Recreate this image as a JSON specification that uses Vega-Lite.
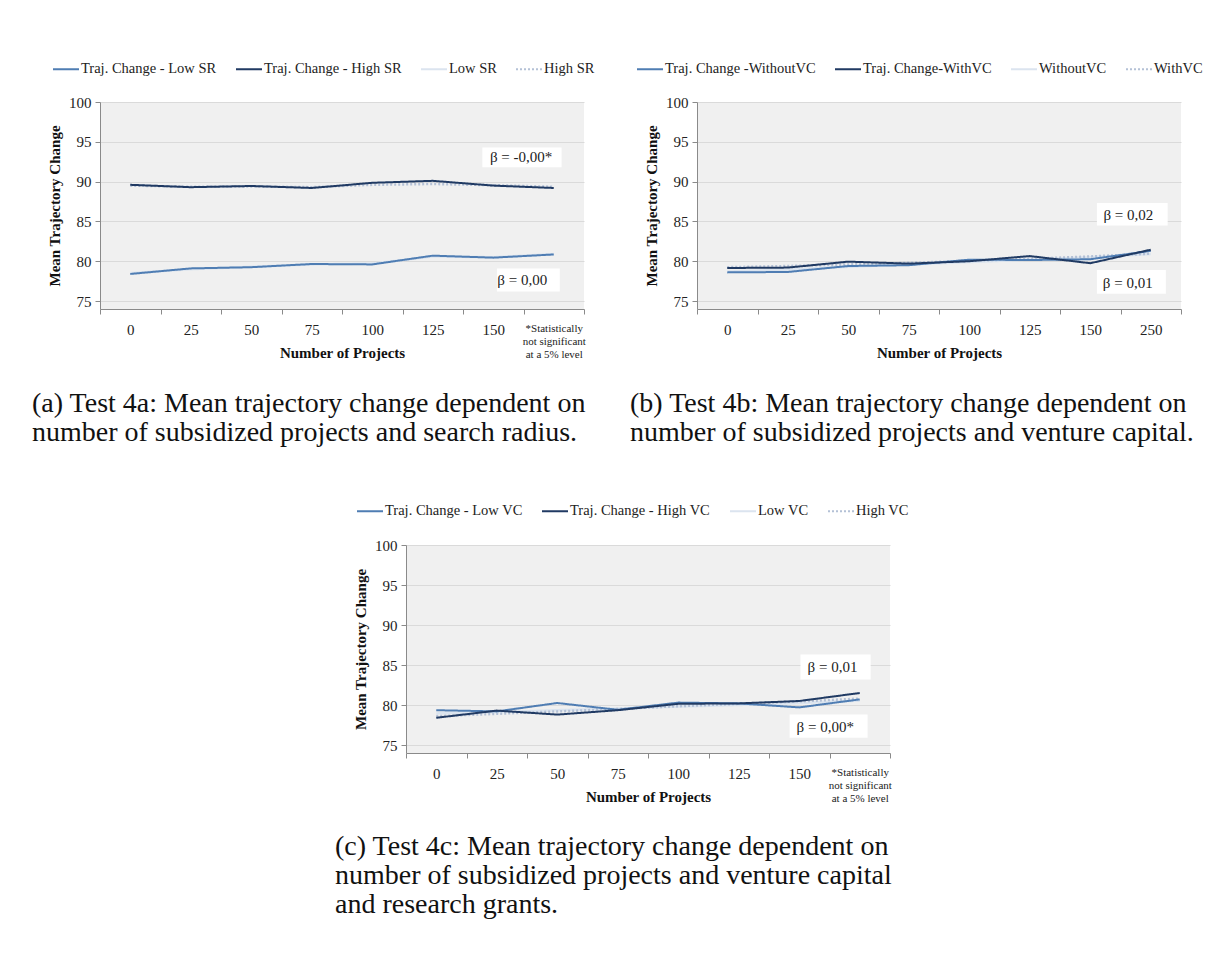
{
  "$schema": "https://vega.github.io/schema/vega-lite/v6.json",
  "background": "white",
  "padding": {"left": 32, "top": 55, "right": 5, "bottom": 5},
  "datasets": {
    "a": [
      {"x": "0", "s": "Traj. Change - Low SR", "y": 78.4},
      {"x": "25", "s": "Traj. Change - Low SR", "y": 79.1},
      {"x": "50", "s": "Traj. Change - Low SR", "y": 79.25},
      {"x": "75", "s": "Traj. Change - Low SR", "y": 79.65},
      {"x": "100", "s": "Traj. Change - Low SR", "y": 79.6},
      {"x": "125", "s": "Traj. Change - Low SR", "y": 80.7},
      {"x": "150", "s": "Traj. Change - Low SR", "y": 80.45},
      {"x": "250", "s": "Traj. Change - Low SR", "y": 80.85},
      {"x": "0", "s": "Traj. Change - High SR", "y": 89.6},
      {"x": "25", "s": "Traj. Change - High SR", "y": 89.3},
      {"x": "50", "s": "Traj. Change - High SR", "y": 89.45},
      {"x": "75", "s": "Traj. Change - High SR", "y": 89.2},
      {"x": "100", "s": "Traj. Change - High SR", "y": 89.85},
      {"x": "125", "s": "Traj. Change - High SR", "y": 90.1},
      {"x": "150", "s": "Traj. Change - High SR", "y": 89.5},
      {"x": "250", "s": "Traj. Change - High SR", "y": 89.2},
      {"x": "0", "s": "Low SR", "y": 78.5},
      {"x": "25", "s": "Low SR", "y": 79.0},
      {"x": "50", "s": "Low SR", "y": 79.3},
      {"x": "75", "s": "Low SR", "y": 79.6},
      {"x": "100", "s": "Low SR", "y": 79.7},
      {"x": "125", "s": "Low SR", "y": 80.6},
      {"x": "150", "s": "Low SR", "y": 80.5},
      {"x": "250", "s": "Low SR", "y": 80.9},
      {"x": "0", "s": "High SR", "y": 89.5},
      {"x": "25", "s": "High SR", "y": 89.35},
      {"x": "50", "s": "High SR", "y": 89.4},
      {"x": "75", "s": "High SR", "y": 89.3},
      {"x": "100", "s": "High SR", "y": 89.6},
      {"x": "125", "s": "High SR", "y": 89.7},
      {"x": "150", "s": "High SR", "y": 89.55},
      {"x": "250", "s": "High SR", "y": 89.35}
    ],
    "b": [
      {"x": "0", "s": "Traj. Change -WithoutVC", "y": 78.6},
      {"x": "25", "s": "Traj. Change -WithoutVC", "y": 78.65},
      {"x": "50", "s": "Traj. Change -WithoutVC", "y": 79.4},
      {"x": "75", "s": "Traj. Change -WithoutVC", "y": 79.5},
      {"x": "100", "s": "Traj. Change -WithoutVC", "y": 80.2},
      {"x": "125", "s": "Traj. Change -WithoutVC", "y": 80.15},
      {"x": "150", "s": "Traj. Change -WithoutVC", "y": 80.25},
      {"x": "250", "s": "Traj. Change -WithoutVC", "y": 81.3},
      {"x": "0", "s": "Traj. Change-WithVC", "y": 79.15},
      {"x": "25", "s": "Traj. Change-WithVC", "y": 79.2},
      {"x": "50", "s": "Traj. Change-WithVC", "y": 79.95},
      {"x": "75", "s": "Traj. Change-WithVC", "y": 79.7},
      {"x": "100", "s": "Traj. Change-WithVC", "y": 80.0},
      {"x": "125", "s": "Traj. Change-WithVC", "y": 80.65},
      {"x": "150", "s": "Traj. Change-WithVC", "y": 79.75},
      {"x": "250", "s": "Traj. Change-WithVC", "y": 81.45},
      {"x": "0", "s": "WithoutVC", "y": 78.7},
      {"x": "25", "s": "WithoutVC", "y": 78.95},
      {"x": "50", "s": "WithoutVC", "y": 79.3},
      {"x": "75", "s": "WithoutVC", "y": 79.6},
      {"x": "100", "s": "WithoutVC", "y": 79.9},
      {"x": "125", "s": "WithoutVC", "y": 80.2},
      {"x": "150", "s": "WithoutVC", "y": 80.5},
      {"x": "250", "s": "WithoutVC", "y": 80.9},
      {"x": "0", "s": "WithVC", "y": 79.25},
      {"x": "25", "s": "WithVC", "y": 79.4},
      {"x": "50", "s": "WithVC", "y": 79.6},
      {"x": "75", "s": "WithVC", "y": 79.8},
      {"x": "100", "s": "WithVC", "y": 80.05},
      {"x": "125", "s": "WithVC", "y": 80.3},
      {"x": "150", "s": "WithVC", "y": 80.6},
      {"x": "250", "s": "WithVC", "y": 80.95}
    ],
    "c": [
      {"x": "0", "s": "Traj. Change - Low VC", "y": 79.35},
      {"x": "25", "s": "Traj. Change - Low VC", "y": 79.2},
      {"x": "50", "s": "Traj. Change - Low VC", "y": 80.25},
      {"x": "75", "s": "Traj. Change - Low VC", "y": 79.4},
      {"x": "100", "s": "Traj. Change - Low VC", "y": 80.3},
      {"x": "125", "s": "Traj. Change - Low VC", "y": 80.2},
      {"x": "150", "s": "Traj. Change - Low VC", "y": 79.7},
      {"x": "250", "s": "Traj. Change - Low VC", "y": 80.7},
      {"x": "0", "s": "Traj. Change - High VC", "y": 78.4},
      {"x": "25", "s": "Traj. Change - High VC", "y": 79.3},
      {"x": "50", "s": "Traj. Change - High VC", "y": 78.8},
      {"x": "75", "s": "Traj. Change - High VC", "y": 79.35},
      {"x": "100", "s": "Traj. Change - High VC", "y": 80.15},
      {"x": "125", "s": "Traj. Change - High VC", "y": 80.2},
      {"x": "150", "s": "Traj. Change - High VC", "y": 80.5},
      {"x": "250", "s": "Traj. Change - High VC", "y": 81.5},
      {"x": "0", "s": "Low VC", "y": 78.95},
      {"x": "25", "s": "Low VC", "y": 79.1},
      {"x": "50", "s": "Low VC", "y": 79.35},
      {"x": "75", "s": "Low VC", "y": 79.55},
      {"x": "100", "s": "Low VC", "y": 79.8},
      {"x": "125", "s": "Low VC", "y": 80.0},
      {"x": "150", "s": "Low VC", "y": 80.25},
      {"x": "250", "s": "Low VC", "y": 80.55},
      {"x": "0", "s": "High VC", "y": 78.6},
      {"x": "25", "s": "High VC", "y": 78.9},
      {"x": "50", "s": "High VC", "y": 79.2},
      {"x": "75", "s": "High VC", "y": 79.5},
      {"x": "100", "s": "High VC", "y": 79.85},
      {"x": "125", "s": "High VC", "y": 80.15},
      {"x": "150", "s": "High VC", "y": 80.45},
      {"x": "250", "s": "High VC", "y": 80.8}
    ]
  },
  "bounds": "flush",
  "spacing": 443,
  "resolve": {
    "scale": {"color": "independent", "strokeDash": "independent"},
    "legend": {"color": "independent", "strokeDash": "independent"}
  },
  "vconcat": [
    {
      "bounds": "flush",
      "spacing": 113,
      "resolve": {
        "scale": {"color": "independent", "strokeDash": "independent"},
        "legend": {"color": "independent", "strokeDash": "independent"}
      },
      "hconcat": [
        {
          "width": 484,
          "height": 207,
          "view": {"fill": "#f0f0f0", "stroke": null},
          "data": {"name": "a"},
          "title": {
            "text": ["(a) Test 4a: Mean trajectory change dependent on", "number of subsidized projects and search radius."],
            "orient": "bottom", "anchor": "start", "frame": "group", "dx": -68, "offset": 30
          },
          "layer": [
            {
              "encoding": {
                "x": {
                  "field": "x", "type": "ordinal", "title": "Number of Projects",
                  "sort": ["0", "25", "50", "75", "100", "125", "150", "250"],
                  "scale": {"type": "band", "paddingInner": 0, "paddingOuter": 0},
                  "axis": {
                    "labelAngle": 0, "tickBand": "extent", "grid": false, "labelPadding": 8,
                    "titleY": 43, "titleBaseline": "middle", "labelLineHeight": 13,
                    "labelExpr": "datum.value == '250' ? ['*Statistically', 'not significant', 'at a 5% level'] : datum.label",
                    "labelFontSize": {"condition": {"test": "datum.value == '250'", "value": 11}, "value": 15}
                  }
                },
                "y": {
                  "field": "y", "type": "quantitative", "title": "Mean Trajectory Change",
                  "scale": {"domain": [75, 100]},
                  "axis": {"values": [75, 80, 85, 90, 95, 100], "grid": true, "labelPadding": 4, "titlePadding": 6}
                }
              },
              "layer": [
                {
                  "transform": [{"filter": "indexof(datum.s, 'Traj') < 0"}],
                  "mark": {"type": "line", "strokeWidth": 2.5},
                  "encoding": {
                    "color": {
                      "field": "s", "type": "nominal",
                      "scale": {"domain": ["Traj. Change - Low SR", "Traj. Change - High SR", "Low SR", "High SR"], "range": ["#4f7db3", "#203a63", "#dbe4ef", "#b4c1d6"]},
                      "legend": {"title": null, "legendX": -48, "legendY": -47}
                    },
                    "strokeDash": {
                      "field": "s", "type": "nominal",
                      "scale": {"domain": ["Traj. Change - Low SR", "Traj. Change - High SR", "Low SR", "High SR"], "range": [[1, 0], [1, 0], [1, 0], [2, 2]]},
                      "legend": {"title": null, "legendX": -48, "legendY": -47}
                    }
                  }
                },
                {
                  "transform": [{"filter": "indexof(datum.s, 'Traj') == 0"}],
                  "mark": {"type": "line", "strokeWidth": 2},
                  "encoding": {
                    "color": {
                      "field": "s", "type": "nominal",
                      "scale": {"domain": ["Traj. Change - Low SR", "Traj. Change - High SR", "Low SR", "High SR"], "range": ["#4f7db3", "#203a63", "#dbe4ef", "#b4c1d6"]},
                      "legend": {"title": null, "legendX": -48, "legendY": -47}
                    },
                    "strokeDash": {
                      "field": "s", "type": "nominal",
                      "scale": {"domain": ["Traj. Change - Low SR", "Traj. Change - High SR", "Low SR", "High SR"], "range": [[1, 0], [1, 0], [1, 0], [2, 2]]},
                      "legend": {"title": null, "legendX": -48, "legendY": -47}
                    }
                  }
                }
              ]
            },
            {
              "data": {"values": [{}]},
              "mark": {"type": "rect", "fill": "white"},
              "encoding": {
                "x": {"datum": 6.32, "type": "quantitative", "scale": {"domain": [0, 8]}, "axis": null},
                "x2": {"datum": 7.63},
                "y": {"datum": 91.8, "type": "quantitative", "title": "Mean Trajectory Change", "axis": {"values": [75, 80, 85, 90, 95, 100], "grid": true, "labelPadding": 4, "titlePadding": 6}},
                "y2": {"datum": 94.3}
              }
            },
            {
              "data": {"values": [{}]},
              "mark": {"type": "text", "font": "Liberation Serif", "fontSize": 15, "color": "#222"},
              "encoding": {
                "x": {"datum": 6.96, "type": "quantitative", "scale": {"domain": [0, 8]}, "axis": null},
                "y": {"datum": 93.1, "type": "quantitative", "title": "Mean Trajectory Change", "axis": {"values": [75, 80, 85, 90, 95, 100], "grid": true, "labelPadding": 4, "titlePadding": 6}},
                "text": {"value": "β = -0,00*"}
              }
            },
            {
              "data": {"values": [{}]},
              "mark": {"type": "rect", "fill": "white"},
              "encoding": {
                "x": {"datum": 6.56, "type": "quantitative", "scale": {"domain": [0, 8]}, "axis": null},
                "x2": {"datum": 7.6},
                "y": {"datum": 76.2, "type": "quantitative", "title": "Mean Trajectory Change", "axis": {"values": [75, 80, 85, 90, 95, 100], "grid": true, "labelPadding": 4, "titlePadding": 6}},
                "y2": {"datum": 79.1}
              }
            },
            {
              "data": {"values": [{}]},
              "mark": {"type": "text", "font": "Liberation Serif", "fontSize": 15, "color": "#222"},
              "encoding": {
                "x": {"datum": 6.98, "type": "quantitative", "scale": {"domain": [0, 8]}, "axis": null},
                "y": {"datum": 77.6, "type": "quantitative", "title": "Mean Trajectory Change", "axis": {"values": [75, 80, 85, 90, 95, 100], "grid": true, "labelPadding": 4, "titlePadding": 6}},
                "text": {"value": "β = 0,00"}
              }
            }
          ],
          "resolve": {"scale": {"x": "independent"}}
        },
        {
          "width": 484,
          "height": 207,
          "view": {"fill": "#f0f0f0", "stroke": null},
          "data": {"name": "b"},
          "title": {
            "text": ["(b) Test 4b: Mean trajectory change dependent on", "number of subsidized projects and venture capital."],
            "orient": "bottom", "anchor": "start", "frame": "group", "dx": -67, "offset": 30
          },
          "layer": [
            {
              "encoding": {
                "x": {
                  "field": "x", "type": "ordinal", "title": "Number of Projects",
                  "sort": ["0", "25", "50", "75", "100", "125", "150", "250"],
                  "scale": {"type": "band", "paddingInner": 0, "paddingOuter": 0},
                  "axis": {"labelAngle": 0, "tickBand": "extent", "grid": false, "labelPadding": 8, "titleY": 43, "titleBaseline": "middle"}
                },
                "y": {
                  "field": "y", "type": "quantitative", "title": "Mean Trajectory Change",
                  "scale": {"domain": [75, 100]},
                  "axis": {"values": [75, 80, 85, 90, 95, 100], "grid": true, "labelPadding": 4, "titlePadding": 6}
                }
              },
              "layer": [
                {
                  "transform": [{"filter": "indexof(datum.s, 'Traj') < 0"}],
                  "mark": {"type": "line", "strokeWidth": 2.5},
                  "encoding": {
                    "color": {
                      "field": "s", "type": "nominal",
                      "scale": {"domain": ["Traj. Change -WithoutVC", "Traj. Change-WithVC", "WithoutVC", "WithVC"], "range": ["#4f7db3", "#203a63", "#dbe4ef", "#b4c1d6"]},
                      "legend": {"title": null, "legendX": -61, "legendY": -47}
                    },
                    "strokeDash": {
                      "field": "s", "type": "nominal",
                      "scale": {"domain": ["Traj. Change -WithoutVC", "Traj. Change-WithVC", "WithoutVC", "WithVC"], "range": [[1, 0], [1, 0], [1, 0], [2, 2]]},
                      "legend": {"title": null, "legendX": -61, "legendY": -47}
                    }
                  }
                },
                {
                  "transform": [{"filter": "indexof(datum.s, 'Traj') == 0"}],
                  "mark": {"type": "line", "strokeWidth": 2},
                  "encoding": {
                    "color": {
                      "field": "s", "type": "nominal",
                      "scale": {"domain": ["Traj. Change -WithoutVC", "Traj. Change-WithVC", "WithoutVC", "WithVC"], "range": ["#4f7db3", "#203a63", "#dbe4ef", "#b4c1d6"]},
                      "legend": {"title": null, "legendX": -61, "legendY": -47}
                    },
                    "strokeDash": {
                      "field": "s", "type": "nominal",
                      "scale": {"domain": ["Traj. Change -WithoutVC", "Traj. Change-WithVC", "WithoutVC", "WithVC"], "range": [[1, 0], [1, 0], [1, 0], [2, 2]]},
                      "legend": {"title": null, "legendX": -61, "legendY": -47}
                    }
                  }
                }
              ]
            },
            {
              "data": {"values": [{}]},
              "mark": {"type": "rect", "fill": "white"},
              "encoding": {
                "x": {"datum": 6.61, "type": "quantitative", "scale": {"domain": [0, 8]}, "axis": null},
                "x2": {"datum": 7.78},
                "y": {"datum": 84.5, "type": "quantitative", "title": "Mean Trajectory Change", "axis": {"values": [75, 80, 85, 90, 95, 100], "grid": true, "labelPadding": 4, "titlePadding": 6}},
                "y2": {"datum": 87.3}
              }
            },
            {
              "data": {"values": [{}]},
              "mark": {"type": "text", "font": "Liberation Serif", "fontSize": 15, "color": "#222"},
              "encoding": {
                "x": {"datum": 7.13, "type": "quantitative", "scale": {"domain": [0, 8]}, "axis": null},
                "y": {"datum": 85.8, "type": "quantitative", "title": "Mean Trajectory Change", "axis": {"values": [75, 80, 85, 90, 95, 100], "grid": true, "labelPadding": 4, "titlePadding": 6}},
                "text": {"value": "β = 0,02"}
              }
            },
            {
              "data": {"values": [{}]},
              "mark": {"type": "rect", "fill": "white"},
              "encoding": {
                "x": {"datum": 6.61, "type": "quantitative", "scale": {"domain": [0, 8]}, "axis": null},
                "x2": {"datum": 7.75},
                "y": {"datum": 75.9, "type": "quantitative", "title": "Mean Trajectory Change", "axis": {"values": [75, 80, 85, 90, 95, 100], "grid": true, "labelPadding": 4, "titlePadding": 6}},
                "y2": {"datum": 78.9}
              }
            },
            {
              "data": {"values": [{}]},
              "mark": {"type": "text", "font": "Liberation Serif", "fontSize": 15, "color": "#222"},
              "encoding": {
                "x": {"datum": 7.12, "type": "quantitative", "scale": {"domain": [0, 8]}, "axis": null},
                "y": {"datum": 77.3, "type": "quantitative", "title": "Mean Trajectory Change", "axis": {"values": [75, 80, 85, 90, 95, 100], "grid": true, "labelPadding": 4, "titlePadding": 6}},
                "text": {"value": "β = 0,01"}
              }
            }
          ],
          "resolve": {"scale": {"x": "independent"}}
        }
      ]
    },
    {
      "bounds": "flush",
      "spacing": 0,
      "resolve": {
        "scale": {"color": "independent", "strokeDash": "independent"},
        "legend": {"color": "independent", "strokeDash": "independent"}
      },
      "hconcat": [
        {"width": 305.5, "height": 10, "data": {"values": []}, "mark": "point"},
        {
          "width": 484,
          "height": 208,
          "view": {"fill": "#f0f0f0", "stroke": null},
          "data": {"name": "c"},
          "title": {
            "text": ["(c) Test 4c: Mean trajectory change dependent on", "number of subsidized projects and venture capital", "and research grants."],
            "orient": "bottom", "anchor": "start", "frame": "group", "dx": -71, "offset": 29
          },
          "layer": [
            {
              "encoding": {
                "x": {
                  "field": "x", "type": "ordinal", "title": "Number of Projects",
                  "sort": ["0", "25", "50", "75", "100", "125", "150", "250"],
                  "scale": {"type": "band", "paddingInner": 0, "paddingOuter": 0},
                  "axis": {
                    "labelAngle": 0, "tickBand": "extent", "grid": false, "labelPadding": 8,
                    "titleY": 43, "titleBaseline": "middle", "labelLineHeight": 13,
                    "labelExpr": "datum.value == '250' ? ['*Statistically', 'not significant', 'at a 5% level'] : datum.label",
                    "labelFontSize": {"condition": {"test": "datum.value == '250'", "value": 11}, "value": 15}
                  }
                },
                "y": {
                  "field": "y", "type": "quantitative", "title": "Mean Trajectory Change",
                  "scale": {"domain": [75, 100]},
                  "axis": {"values": [75, 80, 85, 90, 95, 100], "grid": true, "labelPadding": 4, "titlePadding": 6}
                }
              },
              "layer": [
                {
                  "transform": [{"filter": "indexof(datum.s, 'Traj') < 0"}],
                  "mark": {"type": "line", "strokeWidth": 2.5},
                  "encoding": {
                    "color": {
                      "field": "s", "type": "nominal",
                      "scale": {"domain": ["Traj. Change - Low VC", "Traj. Change - High VC", "Low VC", "High VC"], "range": ["#4f7db3", "#203a63", "#dbe4ef", "#b4c1d6"]},
                      "legend": {"title": null, "legendX": -50, "legendY": -48}
                    },
                    "strokeDash": {
                      "field": "s", "type": "nominal",
                      "scale": {"domain": ["Traj. Change - Low VC", "Traj. Change - High VC", "Low VC", "High VC"], "range": [[1, 0], [1, 0], [1, 0], [2, 2]]},
                      "legend": {"title": null, "legendX": -50, "legendY": -48}
                    }
                  }
                },
                {
                  "transform": [{"filter": "indexof(datum.s, 'Traj') == 0"}],
                  "mark": {"type": "line", "strokeWidth": 2},
                  "encoding": {
                    "color": {
                      "field": "s", "type": "nominal",
                      "scale": {"domain": ["Traj. Change - Low VC", "Traj. Change - High VC", "Low VC", "High VC"], "range": ["#4f7db3", "#203a63", "#dbe4ef", "#b4c1d6"]},
                      "legend": {"title": null, "legendX": -50, "legendY": -48}
                    },
                    "strokeDash": {
                      "field": "s", "type": "nominal",
                      "scale": {"domain": ["Traj. Change - Low VC", "Traj. Change - High VC", "Low VC", "High VC"], "range": [[1, 0], [1, 0], [1, 0], [2, 2]]},
                      "legend": {"title": null, "legendX": -50, "legendY": -48}
                    }
                  }
                }
              ]
            },
            {
              "data": {"values": [{}]},
              "mark": {"type": "rect", "fill": "white"},
              "encoding": {
                "x": {"datum": 6.52, "type": "quantitative", "scale": {"domain": [0, 8]}, "axis": null},
                "x2": {"datum": 7.68},
                "y": {"datum": 83.2, "type": "quantitative", "title": "Mean Trajectory Change", "axis": {"values": [75, 80, 85, 90, 95, 100], "grid": true, "labelPadding": 4, "titlePadding": 6}},
                "y2": {"datum": 86.3}
              }
            },
            {
              "data": {"values": [{}]},
              "mark": {"type": "text", "font": "Liberation Serif", "fontSize": 15, "color": "#222"},
              "encoding": {
                "x": {"datum": 7.05, "type": "quantitative", "scale": {"domain": [0, 8]}, "axis": null},
                "y": {"datum": 84.7, "type": "quantitative", "title": "Mean Trajectory Change", "axis": {"values": [75, 80, 85, 90, 95, 100], "grid": true, "labelPadding": 4, "titlePadding": 6}},
                "text": {"value": "β = 0,01"}
              }
            },
            {
              "data": {"values": [{}]},
              "mark": {"type": "rect", "fill": "white"},
              "encoding": {
                "x": {"datum": 6.34, "type": "quantitative", "scale": {"domain": [0, 8]}, "axis": null},
                "x2": {"datum": 7.63},
                "y": {"datum": 75.9, "type": "quantitative", "title": "Mean Trajectory Change", "axis": {"values": [75, 80, 85, 90, 95, 100], "grid": true, "labelPadding": 4, "titlePadding": 6}},
                "y2": {"datum": 78.8}
              }
            },
            {
              "data": {"values": [{}]},
              "mark": {"type": "text", "font": "Liberation Serif", "fontSize": 15, "color": "#222"},
              "encoding": {
                "x": {"datum": 6.93, "type": "quantitative", "scale": {"domain": [0, 8]}, "axis": null},
                "y": {"datum": 77.3, "type": "quantitative", "title": "Mean Trajectory Change", "axis": {"values": [75, 80, 85, 90, 95, 100], "grid": true, "labelPadding": 4, "titlePadding": 6}},
                "text": {"value": "β = 0,00*"}
              }
            }
          ],
          "resolve": {"scale": {"x": "independent"}}
        }
      ]
    }
  ],
  "config": {
    "font": "Liberation Serif",
    "view": {"stroke": null},
    "axis": {
      "labelFont": "Liberation Serif", "labelFontSize": 15, "labelColor": "#222",
      "titleFont": "Liberation Serif", "titleFontSize": 15, "titleFontWeight": "bold", "titleColor": "#111",
      "domainColor": "#8a8a8a", "tickColor": "#8a8a8a", "tickSize": 5, "gridColor": "#dadada"
    },
    "legend": {
      "orient": "none", "direction": "horizontal", "symbolType": "stroke", "symbolSize": 676,
      "symbolStrokeWidth": 2, "labelFont": "Liberation Serif", "labelFontSize": 14.5, "labelColor": "#222",
      "labelOffset": 1, "columnPadding": 15, "padding": 0, "labelLimit": 400
    },
    "title": {"font": "Liberation Serif", "fontSize": 28, "fontWeight": "normal", "color": "#111", "lineHeight": 29}
  }
}
